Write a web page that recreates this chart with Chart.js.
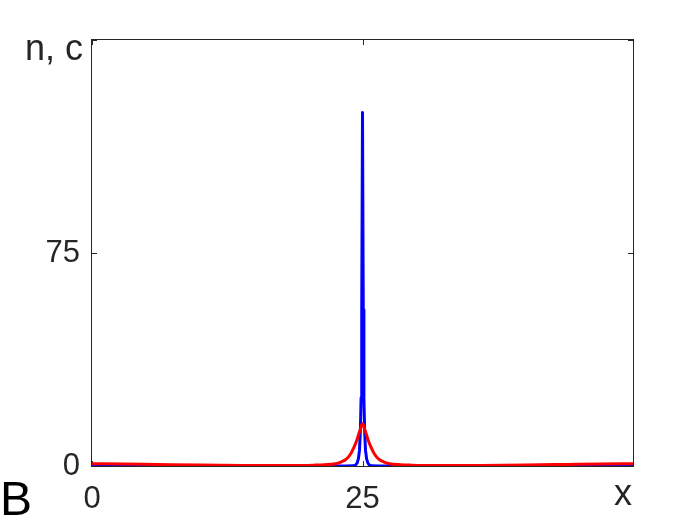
<!DOCTYPE html>
<html><head><meta charset="utf-8">
<script src="https://cdn.jsdelivr.net/npm/chart.js@4"></script>
<style>html,body{margin:0;padding:0;background:#fff}#wrap{width:700px;height:525px}</style>
</head><body><div id="wrap"><canvas id="c" width="700" height="525"></canvas></div>
<script>
// axis ticks
const xTicks = [0, 25, 50];
const xTickLabels = ['0', '25', ''];
const yTicks = [0, 75, 150];
const yTickLabels = ['0', '75', ''];
const xLabel = 'x';
const yLabel = 'n, c';
const panelLabel = 'B';

// n (blue) series
const nX = [0, 10, 20, 23.5, 24.15, 24.35, 24.5, 24.62, 24.72, 24.8, 24.87, 24.93, 25, 25.07, 25.13, 25.2, 25.28, 25.38, 25.5, 25.65, 25.85, 26.5, 30, 40, 50];
const nY = [0, 0, 0, 0, 0.05, 0.3, 1, 2.5, 5.5, 12, 24, 55, 124.5, 55, 24, 12, 5.5, 2.5, 1, 0.3, 0.05, 0, 0, 0, 0];

// c (red) series
const cX = [0, 3, 6, 10, 14, 17, 19, 20.5, 21.5, 22.5, 23, 23.5, 23.9, 24.2, 24.45, 24.65, 24.8, 24.9, 25, 25.1, 25.2, 25.35, 25.55, 25.8, 26.1, 26.5, 27, 27.5, 28.5, 29.5, 31, 33, 36, 40, 44, 47, 50];
const cY = [0.8, 0.7, 0.55, 0.35, 0.2, 0.15, 0.2, 0.3, 0.45, 0.8, 1.4, 2.4, 4.2, 6.5, 8.8, 11.2, 13, 14.3, 15, 14.3, 13, 11.2, 8.8, 6.5, 4.2, 2.4, 1.4, 0.8, 0.45, 0.3, 0.2, 0.15, 0.2, 0.35, 0.55, 0.7, 0.8];

const AX = '#262626';
const toPts = (xs, ys) => xs.map((x, i) => ({x: x, y: ys[i]}));

const framePlugin = {
  id: 'frame',
  beforeDatasetsDraw(chart) {
    const a = chart.chartArea, ctx = chart.ctx;
    const sx = chart.scales.x, sy = chart.scales.y;
    ctx.save();
    ctx.strokeStyle = AX; ctx.lineWidth = 1;
    ctx.strokeRect(a.left - 0.5, a.top - 0.5, a.right - a.left + 1, a.bottom - a.top + 1);
    const tl = 5;
    ctx.beginPath();
    xTicks.forEach(v => {
      const p = Math.round(sx.getPixelForValue(v)) + 0.5;
      ctx.moveTo(p, a.bottom); ctx.lineTo(p, a.bottom - tl);
      ctx.moveTo(p, a.top); ctx.lineTo(p, a.top + tl);
    });
    yTicks.forEach(v => {
      const p = Math.round(sy.getPixelForValue(v)) + 0.5;
      ctx.moveTo(a.left, p); ctx.lineTo(a.left + tl, p);
      ctx.moveTo(a.right, p); ctx.lineTo(a.right - tl, p);
    });
    ctx.stroke();
    ctx.restore();
  },
  afterDraw(chart) {
    const ctx = chart.ctx, a = chart.chartArea;
    ctx.save();
    ctx.fillStyle = AX;
    ctx.textBaseline = 'alphabetic';
    ctx.font = '36px "Liberation Sans", Arial, sans-serif';
    ctx.textAlign = 'right';
    ctx.fillText(yLabel, a.left - 9, 60);
    ctx.fillText(xLabel, a.right - 1, 505);
    ctx.fillStyle = '#000';
    ctx.textAlign = 'left';
    ctx.font = '48px "Liberation Sans", Arial, sans-serif';
    ctx.fillText(panelLabel, 0, 515);
    ctx.restore();
  }
};

new Chart(document.getElementById('c'), {
  type: 'scatter',
  data: {
    datasets: [
      {label: 'n', data: toPts(nX, nY), showLine: true, borderColor: '#0000ff', borderWidth: 3, pointRadius: 0, order: 1, tension: 0, borderJoinStyle: 'round'},
      {label: 'c', data: toPts(cX, cY), showLine: true, borderColor: '#ff0000', borderWidth: 3, pointRadius: 0, order: 0, cubicInterpolationMode: 'monotone', borderJoinStyle: 'round'}
    ]
  },
  options: {
    responsive: false,
    animation: false,
    events: [],
    layout: {padding: {left: 0, right: 67, top: 40, bottom: 0}},
    plugins: {legend: {display: false}, tooltip: {enabled: false}, title: {display: false}},
    scales: {
      x: {
        type: 'linear', min: 0, max: 50,
        afterBuildTicks: s => { s.ticks = xTicks.map(v => ({value: v})); },
        afterFit: s => { s.height = 59; },
        grid: {display: false, drawTicks: false, tickLength: 0},
        border: {display: false},
        ticks: {
          autoSkip: false, maxRotation: 0, padding: 15, color: AX,
          font: {family: '"Liberation Sans", Arial, sans-serif', size: 31},
          callback: v => { const i = xTicks.indexOf(v); return i >= 0 ? xTickLabels[i] : ''; }
        }
      },
      y: {
        type: 'linear', min: 0, max: 150,
        afterBuildTicks: s => { s.ticks = yTicks.map(v => ({value: v})); },
        afterFit: s => { s.width = 92; },
        grid: {display: false, drawTicks: false, tickLength: 0},
        border: {display: false},
        ticks: {
          autoSkip: false, padding: 12, color: AX,
          font: {family: '"Liberation Sans", Arial, sans-serif', size: 31},
          callback: v => { const i = yTicks.indexOf(v); return i >= 0 ? yTickLabels[i] : ''; }
        }
      }
    }
  },
  plugins: [framePlugin]
});
</script>
</body></html>
